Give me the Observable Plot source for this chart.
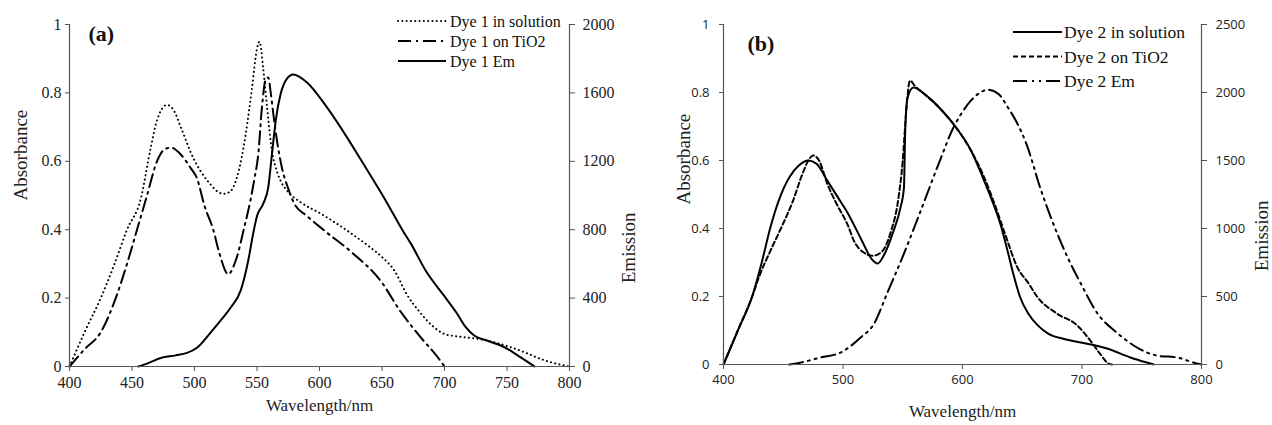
<!DOCTYPE html>
<html><head><meta charset="utf-8">
<script src="https://cdn.jsdelivr.net/npm/d3@7"></script>
<script src="https://cdn.jsdelivr.net/npm/@observablehq/plot@0.6"></script>
<style>
body{margin:0;background:#fff;}
#wrap{position:relative;width:1272px;height:425px;overflow:hidden;background:#fff;}
.panel{position:absolute;top:0;}
.legend{position:absolute;top:0;left:0;}
</style></head><body><div id="wrap"></div>
<script>
// ---------- tick labels ----------
const wlTicksA = [400, 450, 500, 550, 600, 650, 700, 750, 800];
const wlTicksB = [400, 500, 600, 700, 800];
const absTicks = [0, 0.2, 0.4, 0.6, 0.8, 1];
const emTicksA = [0, 400, 800, 1200, 1600, 2000];
const emTicksB = [0, 500, 1000, 1500, 2000, 2500];
const emMaxA = 2000;
const emMaxB = 2500;

// ---------- panel (a) ----------
const dye1SolWl  = [400, 412, 425, 436, 446, 457, 465, 470, 478, 484, 489, 499, 510, 523, 528, 534, 541, 546, 550, 552, 555, 558, 562, 566, 570, 575, 585, 601, 625, 640, 650, 660, 670, 680, 690, 700, 710, 720, 735, 750, 765, 780, 800];
const dye1SolAbs = [0, 0.1, 0.2, 0.3, 0.4, 0.49, 0.64, 0.72, 0.765, 0.745, 0.7, 0.61, 0.545, 0.505, 0.51, 0.553, 0.68, 0.815, 0.93, 0.95, 0.87, 0.76, 0.63, 0.57, 0.535, 0.51, 0.48, 0.447, 0.39, 0.35, 0.32, 0.28, 0.21, 0.16, 0.12, 0.095, 0.088, 0.084, 0.075, 0.06, 0.04, 0.018, 0];

const dye1TiWl  = [400, 412, 425, 437, 446, 454, 462, 470, 476, 481, 489, 497, 502, 508, 515, 520, 527, 533, 540, 545, 548, 551, 554, 557, 559, 561, 563, 566, 570, 575, 580, 590, 603, 627, 649, 665, 681, 694, 700];
const dye1TiAbs = [0, 0.05, 0.1, 0.2, 0.3, 0.4, 0.5, 0.6, 0.635, 0.64, 0.62, 0.58, 0.55, 0.47, 0.4, 0.33, 0.27, 0.31, 0.41, 0.49, 0.55, 0.62, 0.76, 0.84, 0.845, 0.8, 0.74, 0.66, 0.58, 0.52, 0.475, 0.44, 0.4, 0.33, 0.25, 0.16, 0.085, 0.03, 0];

const dye1EmWl = [455, 463, 473, 485, 494, 502, 513, 521, 529, 537, 543, 547, 550, 555, 559, 562, 565, 569, 574, 579, 590, 606, 622, 633, 653, 667, 673, 685, 699, 710, 717, 724, 734, 750, 761, 772];
const dye1Em   = [0, 20, 50, 65, 80, 110, 200, 270, 345, 445, 620, 780, 880, 953, 1047, 1245, 1440, 1596, 1684, 1708, 1661, 1515, 1340, 1210, 970, 790, 720, 560, 420, 310, 230, 180, 152, 105, 53, 0];

// ---------- panel (b) ----------
const dye2SolWl  = [400, 412, 424, 432, 439, 446, 455, 463, 471, 478, 487, 496, 504, 515, 524, 529, 534, 542, 548, 551, 552, 554, 559, 570, 582, 594, 607, 617, 625, 632, 638, 643, 648, 655, 663, 672, 685, 699, 721, 741, 755, 760];
const dye2SolAbs = [0, 0.1, 0.2, 0.3, 0.4, 0.48, 0.55, 0.585, 0.6, 0.59, 0.54, 0.49, 0.445, 0.37, 0.31, 0.297, 0.32, 0.39, 0.46, 0.52, 0.68, 0.785, 0.815, 0.79, 0.75, 0.7, 0.63, 0.55, 0.48, 0.41, 0.33, 0.26, 0.2, 0.15, 0.115, 0.09, 0.075, 0.065, 0.047, 0.02, 0.005, 0];

const dye2TiWl  = [400, 412, 424, 430, 440, 448, 458, 466, 471, 475, 480, 487, 495, 504, 509, 517, 525, 532, 540, 546, 550, 553, 556, 560, 570, 582, 594, 607, 617, 626, 636, 646, 655, 663, 679, 696, 707, 715, 722, 725];
const dye2TiAbs = [0, 0.1, 0.2, 0.26, 0.34, 0.4, 0.48, 0.56, 0.6, 0.615, 0.6, 0.53, 0.47, 0.41, 0.365, 0.33, 0.32, 0.33, 0.39, 0.48, 0.6, 0.75, 0.835, 0.82, 0.79, 0.75, 0.7, 0.63, 0.56, 0.48, 0.38, 0.285, 0.24, 0.197, 0.15, 0.115, 0.07, 0.032, 0.003, 0];

const dye2EmWl = [455, 465, 481, 498, 515, 526, 537, 551, 565, 582, 592, 598, 607, 614, 621, 630, 638, 646, 654, 665, 674, 688, 699, 713, 730, 746, 763, 780, 793, 800];
const dye2Em   = [0, 15, 51, 88, 200, 300, 525, 815, 1130, 1520, 1735, 1830, 1940, 1995, 2020, 1990, 1890, 1770, 1610, 1300, 1080, 787, 595, 375, 228, 125, 65, 51, 15, 0];

// ---------- helpers ----------
const SERIF = "'Liberation Serif', 'Times New Roman', serif";
const SANS = "'Open Sans', 'Noto Sans', sans-serif";
const rows = (wl, vals, scale = 1) => wl.map((w, i) => ({wl: w, v: vals[i] / scale}));

const styles = {
  dotted:  {stroke: "#000", strokeWidth: 2, strokeDasharray: "0.1,4.2", strokeLinecap: "round"},
  dashDot: {stroke: "#000", strokeWidth: 2, strokeDasharray: "13,5,2,5"},
  solid:   {stroke: "#000", strokeWidth: 2},
  dashed:  {stroke: "#000", strokeWidth: 2, strokeDasharray: "5,3"},
  dashDotDot: {stroke: "#000", strokeWidth: 2, strokeDasharray: "14,5,2,5,2,5"}
};

function makePanel(cfg) {
  const marks = [];
  for (const s of cfg.series) {
    marks.push(Plot.line(s.data, {x: "wl", y: "v", curve: "monotone-x", ...styles[s.style]}));
  }
  marks.push(
    Plot.ruleX([400, 800], {stroke: "#555", strokeWidth: 1.2}),
    Plot.ruleY([0], {stroke: "#555", strokeWidth: 1.2}),
    Plot.axisX(cfg.xTicks, {anchor: "bottom", tickSize: 5, tickPadding: 5, fontSize: cfg.tickFontSize, fontFamily: cfg.tickFont, fill: "#222", stroke: "#555", tickFormat: d => String(d), label: null}),
    Plot.axisY(absTicks, {anchor: "left", tickSize: 4, tickPadding: cfg.leftPad, fontSize: cfg.tickFontSize, fontFamily: cfg.tickFont, fill: "#222", stroke: "#555", tickFormat: d => String(d), label: null}),
    Plot.axisY(cfg.emTicks.map(d => d / cfg.emMax), {anchor: "right", tickSize: 5, tickPadding: cfg.rightPad, fontSize: cfg.tickFontSize, fontFamily: cfg.tickFont, fill: "#222", stroke: "#555", tickFormat: d => String(Math.round(d * cfg.emMax)), label: null}),
    Plot.text([cfg.tag], {frameAnchor: "top-left", dx: cfg.tagDx, dy: cfg.tagDy, lineAnchor: "middle", textAnchor: "start", fontWeight: "bold", fontSize: 22, fontFamily: SERIF, fill: "#111"}),
    Plot.text(["Absorbance"], {frameAnchor: "left", dx: cfg.absDx, dy: cfg.absDy, rotate: -90, fontSize: 19, fontFamily: SERIF, fill: "#222"}),
    Plot.text(["Emission"], {frameAnchor: "right", dx: cfg.emDx, dy: cfg.emDy, rotate: -90, fontSize: 19, fontFamily: SERIF, fill: "#222"}),
    Plot.text(["Wavelength/nm"], {frameAnchor: "bottom", dy: cfg.wlDy, fontSize: 17, fontFamily: SERIF, fill: "#222"})
  );
  return Plot.plot({
    width: cfg.width, height: 425,
    marginLeft: cfg.ml, marginRight: cfg.mr, marginTop: 24, marginBottom: cfg.mb,
    x: {domain: [400, 800]},
    y: {domain: [0, 1]},
    style: {background: "transparent", overflow: "visible"},
    marks
  });
}

const wrap = document.getElementById("wrap");

const pa = makePanel({
  width: 640, ml: 69, mr: 71, mb: 59,
  xTicks: wlTicksA, emTicks: emTicksA, emMax: emMaxA,
  tickFont: SERIF, tickFontSize: 16, leftPad: 4, rightPad: 8,
  tag: "(a)", tagDx: 19, tagDy: 9,
  absDx: -49, absDy: 5, emDx: 59, emDy: 17, wlDy: 44,
  series: [
    {data: rows(dye1SolWl, dye1SolAbs), style: "dotted"},
    {data: rows(dye1TiWl, dye1TiAbs), style: "dashDot"},
    {data: rows(dye1EmWl, dye1Em, emMaxA), style: "solid"}
  ]
});
pa.classList.add("panel"); pa.style.left = "0px";
wrap.appendChild(pa);

const pb = makePanel({
  width: 632, ml: 83, mr: 71, mb: 61,
  xTicks: wlTicksB, emTicks: emTicksB, emMax: emMaxB,
  tickFont: SANS, tickFontSize: 13, leftPad: 10, rightPad: 9,
  tag: "(b)", tagDx: 24, tagDy: 19,
  absDx: -40, absDy: 10, emDx: 60, emDy: 6, wlDy: 52,
  series: [
    {data: rows(dye2SolWl, dye2SolAbs), style: "solid"},
    {data: rows(dye2TiWl, dye2TiAbs), style: "dashed"},
    {data: rows(dye2EmWl, dye2Em, emMaxB), style: "dashDotDot"}
  ]
});
pb.classList.add("panel"); pb.style.left = "640px";
wrap.appendChild(pb);

// ---------- legends ----------
const legendA = [
  {label: "Dye 1 in solution", style: "dotted"},
  {label: "Dye 1 on TiO2", style: "dashDot"},
  {label: "Dye 1 Em", style: "solid"}
];
const legendB = [
  {label: "Dye 2 in solution", style: "solid"},
  {label: "Dye 2 on TiO2", style: "dashed"},
  {label: "Dye 2 Em", style: "dashDotDot"}
];
function drawLegend(items, x0, x1, tx, y0, step, fs) {
  const svg = d3.create("svg").attr("class", "legend").attr("width", 1272).attr("height", 425);
  items.forEach((it, i) => {
    const y = y0 + i * step;
    const st = styles[it.style];
    svg.append("line").attr("x1", x0).attr("x2", x1).attr("y1", y).attr("y2", y)
      .attr("stroke", st.stroke).attr("stroke-width", st.strokeWidth)
      .attr("stroke-dasharray", st.strokeDasharray || null)
      .attr("stroke-linecap", st.strokeLinecap || null);
    svg.append("text").attr("x", tx).attr("y", y).attr("dy", "0.35em")
      .attr("font-family", SERIF).attr("font-size", fs).attr("fill", "#111").text(it.label);
  });
  wrap.appendChild(svg.node());
}
drawLegend(legendA, 398, 446, 450, 21, 20, 16);
drawLegend(legendB, 1013, 1062, 1064, 32, 24.5, 17.5);
</script></body></html>
